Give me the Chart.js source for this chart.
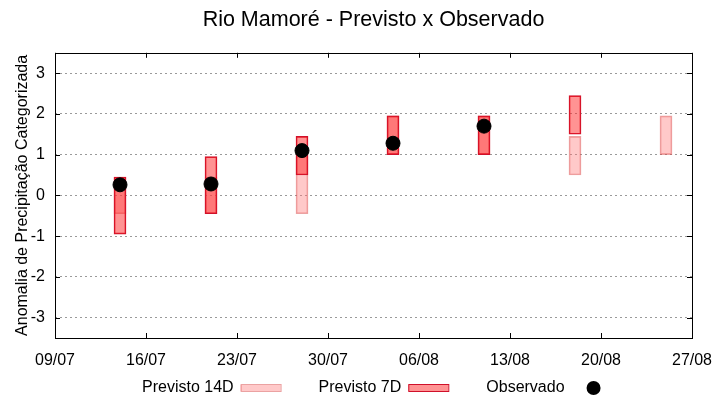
<!DOCTYPE html>
<html lang="pt-BR">
<head>
<meta charset="utf-8">
<title>Rio Mamoré - Previsto x Observado</title>
<script src="https://cdn.jsdelivr.net/npm/chart.js@4/dist/chart.umd.min.js"></script>
<style>
  html, body { margin: 0; padding: 0; background: #ffffff; }
  #caixa { width: 720px; height: 400px; position: relative; }
</style>
</head>
<body>
<div id="caixa"><canvas id="grafico"></canvas></div>
<script>
// dados
const datas = ['14/07', '21/07', '28/07', '04/08', '11/08', '18/08', '25/08'];
const previsto14Min = [-0.45, -0.45, -0.45, 1.0, 1.0, 0.5, 1.0];
const previsto14Max = [0.45, 0.45, 0.95, 1.95, 1.95, 1.45, 1.95];
const previsto7Min = [-0.95, -0.45, 0.5, 1.0, 1.0, 1.5, null];
const previsto7Max = [0.45, 0.95, 1.45, 1.95, 1.95, 2.45, null];
const observado = [0.26, 0.28, 1.1, 1.28, 1.7, null, null];

const ticksX = ['09/07', '16/07', '23/07', '30/07', '06/08', '13/08', '20/08', '27/08'];
const ticksY = [-3, -2, -1, 0, 1, 2, 3];

const FONTE = "'Liberation Sans', Arial, sans-serif";
const COR_14D = 'rgba(255, 120, 120, 0.4)';
const BORDA_14D = 'rgba(215, 70, 70, 0.5)';
const COR_7D = 'rgba(255, 40, 40, 0.5)';
const BORDA_7D = '#d0102a';

/**
 * Converte 'dd/mm' em dias desde o primeiro tick do eixo x.
 */
function dia(texto) {
    const [d, m] = texto.split('/').map(Number);
    const [d0, m0] = ticksX[0].split('/').map(Number);
    return Math.round((Date.UTC(2024, m - 1, d) - Date.UTC(2024, m0 - 1, d0)) / 86400000);
}

function barras(minimos, maximos) {
    return datas
        .map((t, i) => ({ x: dia(t), y: [minimos[i], maximos[i]] }))
        .filter(p => p.y[0] !== null && p.y[1] !== null);
}

const pontosObservados = datas
    .map((t, i) => ({ x: dia(t), y: observado[i] }))
    .filter(p => p.y !== null);

// moldura com ticks para dentro, como no gnuplot
const moldura = {
    id: 'moldura',
    afterDatasetsDraw(chart) {
        const { ctx, chartArea: a, scales } = chart;
        ctx.save();
        ctx.strokeStyle = '#000';
        ctx.lineWidth = 1;
        ctx.beginPath();
        scales.y.ticks.forEach(t => {
            const y = Math.round(scales.y.getPixelForValue(t.value)) + 0.5;
            ctx.moveTo(a.left, y); ctx.lineTo(a.left + 5, y);
            ctx.moveTo(a.right, y); ctx.lineTo(a.right - 5, y);
        });
        scales.x.ticks.forEach(t => {
            const x = Math.round(scales.x.getPixelForValue(t.value)) + 0.5;
            ctx.moveTo(x, a.bottom); ctx.lineTo(x, a.bottom - 5);
            ctx.moveTo(x, a.top); ctx.lineTo(x, a.top + 5);
        });
        ctx.stroke();
        ctx.strokeRect(Math.round(a.left) + 0.5, Math.round(a.top) + 0.5,
            Math.round(a.right - a.left), Math.round(a.bottom - a.top));
        ctx.restore();
    }
};

// legenda no estilo gnuplot: texto primeiro, amostra depois
const legenda = {
    id: 'legenda',
    afterDraw(chart) {
        const { ctx } = chart;
        const y = 388;
        ctx.save();
        ctx.font = '16px ' + FONTE;
        ctx.textBaseline = 'middle';
        let x = 142;
        const itens = [
            { texto: 'Previsto 14D', cor: COR_14D, borda: BORDA_14D },
            { texto: 'Previsto 7D', cor: COR_7D, borda: BORDA_7D },
            { texto: 'Observado', ponto: true }
        ];
        itens.forEach(item => {
            ctx.fillStyle = '#000';
            ctx.fillText(item.texto, x, y);
            x += ctx.measureText(item.texto).width;
            if (item.ponto) {
                ctx.beginPath();
                ctx.arc(x + 29, y, 7, 0, Math.PI * 2);
                ctx.fill();
            } else {
                ctx.fillStyle = item.cor;
                ctx.fillRect(x + 7, y - 3, 40, 6);
                ctx.strokeStyle = item.borda;
                ctx.lineWidth = 1;
                ctx.strokeRect(x + 7.5, y - 3.5, 40, 7);
                x += 47 + 38;
            }
        });
        ctx.restore();
    }
};

Chart.defaults.font.family = FONTE;
Chart.defaults.color = '#000';

new Chart(document.getElementById('grafico'), {
    type: 'bar',
    data: {
        datasets: [
            {
                label: 'Previsto 14D',
                data: barras(previsto14Min, previsto14Max),
                backgroundColor: COR_14D,
                borderColor: BORDA_14D,
                borderWidth: 1,
                borderSkipped: false,
                grouped: false,
                barThickness: 12,
                order: 3
            },
            {
                label: 'Previsto 7D',
                data: barras(previsto7Min, previsto7Max),
                backgroundColor: COR_7D,
                borderColor: BORDA_7D,
                borderWidth: 1,
                borderSkipped: false,
                grouped: false,
                barThickness: 12,
                order: 2
            },
            {
                type: 'scatter',
                label: 'Observado',
                data: pontosObservados,
                backgroundColor: '#000',
                borderColor: '#000',
                pointRadius: 7,
                order: 1
            }
        ]
    },
    options: {
        responsive: true,
        maintainAspectRatio: false,
        animation: false,
        layout: { padding: { left: 0, right: 28, top: 0, bottom: 0 } },
        scales: {
            x: {
                type: 'linear',
                offset: false,
                min: 0,
                max: dia(ticksX[ticksX.length - 1]),
                afterBuildTicks: s => { s.ticks = ticksX.map(t => ({ value: dia(t) })); },
                afterFit: s => { s.height = 62; s.paddingLeft = 0; s.paddingRight = 0; },
                grid: { display: false, drawTicks: false, offset: false },
                border: { display: false },
                ticks: {
                    padding: 13,
                    font: { size: 16 },
                    maxRotation: 0,
                    autoSkip: false,
                    callback: v => ticksX.find(t => dia(t) === v) || ''
                }
            },
            y: {
                min: -3.5,
                max: 3.5,
                afterBuildTicks: s => { s.ticks = ticksY.map(v => ({ value: v })); },
                afterFit: s => { s.width = 55; },
                grid: { color: '#9a9a9a', drawTicks: false, lineWidth: 1 },
                border: { display: false, dash: [2, 3] },
                ticks: { padding: 10, font: { size: 16 } },
                title: {
                    display: true,
                    text: 'Anomalia de Precipitação Categorizada',
                    font: { size: 16 },
                    padding: { top: 13, bottom: 0 }
                }
            }
        },
        plugins: {
            legend: { display: false },
            tooltip: { enabled: false },
            title: {
                display: true,
                fullSize: false,
                text: 'Rio Mamoré - Previsto x Observado',
                font: { size: 21.5, weight: 'normal' },
                padding: { top: 7, bottom: 20 }
            }
        }
    },
    plugins: [moldura, legenda]
});
</script>
</body>
</html>
